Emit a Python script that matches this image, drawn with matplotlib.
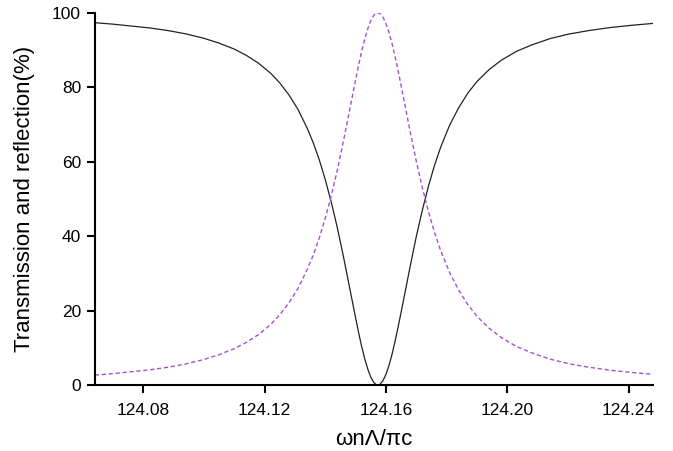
import matplotlib
matplotlib.use("Agg")
import matplotlib.pyplot as plt

plt.rcParams['font.family'] = ['Liberation Sans', 'DejaVu Sans']

# frequency (omega n Lambda / pi c)
freq = [124.064, 124.070, 124.076, 124.082, 124.088, 124.094, 124.100, 124.105,
        124.110, 124.114, 124.118, 124.122, 124.125, 124.128, 124.131, 124.134,
        124.136, 124.138, 124.140, 124.142, 124.144, 124.146, 124.148, 124.150,
        124.151, 124.152, 124.153, 124.154, 124.155, 124.156, 124.157, 124.158,
        124.159, 124.160, 124.161, 124.162, 124.163, 124.164, 124.166, 124.168,
        124.170, 124.172, 124.174, 124.176, 124.178, 124.181, 124.184, 124.187,
        124.190, 124.194, 124.198, 124.203, 124.208, 124.214, 124.220, 124.227,
        124.234, 124.241, 124.248]

# dashed curve (peak)
transmission = [2.7, 3.1, 3.6, 4.1, 4.8, 5.7, 6.9, 8.2,
                9.8, 11.5, 13.6, 16.3, 18.9, 22.1, 26.0, 31.0,
                34.9, 39.5, 44.9, 51.0, 57.9, 65.6, 73.8, 82.0,
                86.0, 89.7, 92.9, 95.7, 97.9, 99.3, 100.0, 99.8,
                98.8, 97.1, 94.7, 91.7, 88.2, 84.4, 76.3, 68.0,
                60.1, 53.0, 46.6, 41.0, 36.2, 30.2, 25.5, 21.6,
                18.5, 15.3, 12.8, 10.4, 8.7, 7.0, 5.8, 4.8,
                4.0, 3.4, 2.9]

# solid curve (dip)
reflection = [97.3, 96.9, 96.4, 95.9, 95.2, 94.3, 93.1, 91.8,
              90.2, 88.5, 86.4, 83.7, 81.1, 77.9, 74.0, 69.0,
              65.1, 60.5, 55.1, 49.0, 42.1, 34.4, 26.2, 18.0,
              14.0, 10.3, 7.1, 4.3, 2.1, 0.7, 0.0, 0.2,
              1.2, 2.9, 5.3, 8.3, 11.8, 15.6, 23.7, 32.0,
              39.9, 47.0, 53.4, 59.0, 63.8, 69.8, 74.5, 78.4,
              81.5, 84.7, 87.2, 89.6, 91.3, 93.0, 94.2, 95.2,
              96.0, 96.6, 97.1]

xticks = [124.08, 124.12, 124.16, 124.20, 124.24]
xtick_labels = ['124.08', '124.12', '124.16', '124.20', '124.24']
yticks = [0, 20, 40, 60, 80, 100]

fig = plt.figure(figsize=(6.73, 4.51), dpi=100)
ax = fig.add_axes([0.141, 0.146, 0.829, 0.826])

ax.plot(freq, reflection, color='#222222', linewidth=0.9)
ax.plot(freq, transmission, color='#a050dc', linewidth=1.0, linestyle=(0, (3, 2)))

ax.set_xlim(124.064, 124.248)
ax.set_ylim(0, 100)
ax.set_xticks(xticks)
ax.set_xticklabels(xtick_labels)
ax.set_yticks(yticks)

for side in ['top', 'right']:
    ax.spines[side].set_visible(False)
for side in ['left', 'bottom']:
    ax.spines[side].set_linewidth(1.5)

ax.tick_params(direction='out', length=6, width=1.5, labelsize=12.5, pad=4)
ax.tick_params(axis='x', pad=7)
ax.set_xlabel('ωnΛ/πc', fontsize=16, labelpad=8)
ax.set_ylabel('Transmission and reflection(%)', fontsize=16, labelpad=12)

fig.savefig('out.png', dpi=100)
